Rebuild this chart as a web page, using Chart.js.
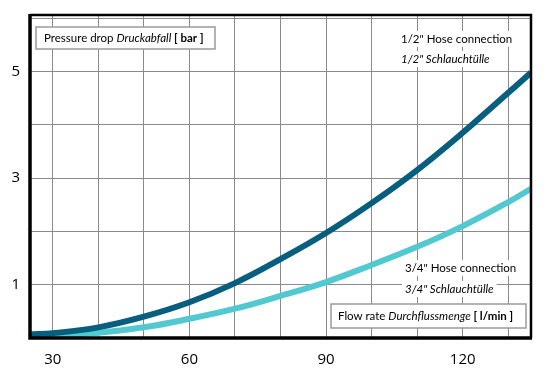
<!DOCTYPE html>
<html>
<head>
<meta charset="utf-8">
<title>Pressure drop</title>
<script src="https://cdn.jsdelivr.net/npm/chart.js@4/dist/chart.umd.min.js"></script>
<style>
  html, body { margin: 0; padding: 0; background: #fff; }
  #wrap { width: 552px; height: 375px; position: relative; }
</style>
</head>
<body>
<div id="wrap"><canvas id="chart"></canvas></div>
<script>
// flow rate in l/min
var flow = [25, 30, 40, 50, 60, 70, 80, 90, 100, 110, 120, 130, 135];
// pressure drop in bar
var half_inch = [0.07, 0.09, 0.2, 0.4, 0.67, 1.03, 1.48, 1.97, 2.53, 3.15, 3.85, 4.6, 4.98];
var three_quarter = [0.05, 0.05, 0.1, 0.2, 0.36, 0.55, 0.79, 1.05, 1.37, 1.71, 2.1, 2.55, 2.8];
var x_labels = [30, 60, 90, 120];
var y_labels = [1, 3, 5];

function points(ys) {
  return flow.map(function (x, i) {
    return { x: x, y: ys[i] };
  });
}

// label with mixed styles, drawn part by part
function drawParts(ctx, x, y, parts) {
  var cx = x;
  parts.forEach(function (p) {
    ctx.font = p[1] + ' 11.5px Lato';
    ctx.fillText(p[0], cx, y);
    cx += ctx.measureText(p[0]).width;
  });
  return cx - x;
}

function textLine(ctx, x, y, parts) {
  ctx.save();
  ctx.textBaseline = 'middle';
  ctx.fillStyle = '#000';
  ctx.globalAlpha = 0;
  var w = drawParts(ctx, x, y, parts);
  ctx.globalAlpha = 1;
  ctx.fillStyle = '#fff';
  ctx.fillRect(x - 3, y - 8, w + 6, 16);
  ctx.fillStyle = '#000';
  drawParts(ctx, x, y, parts);
  ctx.restore();
}

function box(ctx, x, y, w, h) {
  ctx.save();
  ctx.fillStyle = '#fff';
  ctx.fillRect(x, y, w, h);
  ctx.strokeStyle = '#9a9a9a';
  ctx.lineWidth = 1.5;
  ctx.strokeRect(x, y, w, h);
  ctx.restore();
}

var labelsPlugin = {
  id: 'labels',
  beforeDatasetsDraw: function (chart) {
    var ctx = chart.ctx;
    box(ctx, 36, 27, 179, 22);
    textLine(ctx, 44, 38, [['Pressure drop ', 'normal'], ['Druckabfall', 'italic'], [' [ bar ]', 'bold']]);

    textLine(ctx, 401, 39, [['1/2" Hose connection', 'normal']]);
    textLine(ctx, 401, 59, [['1/2" Schlauchtülle', 'italic']]);

    textLine(ctx, 405, 268, [['3/4" Hose connection', 'normal']]);
    textLine(ctx, 405, 289, [['3/4" Schlauchtülle', 'italic']]);

    box(ctx, 331, 304, 195, 24);
    textLine(ctx, 338, 316, [['Flow rate ', 'normal'], ['Durchflussmenge', 'italic'], [' [ l/min ]', 'bold']]);
  },
  afterDraw: function (chart) {
    var a = chart.chartArea;
    var ctx = chart.ctx;
    ctx.save();
    ctx.strokeStyle = '#000';
    ctx.lineWidth = 2.5;
    ctx.beginPath();
    ctx.moveTo(a.left, a.top);
    ctx.lineTo(a.right, a.top);
    ctx.lineTo(a.right, a.bottom);
    ctx.stroke();
    ctx.lineWidth = 3.5;
    ctx.beginPath();
    ctx.moveTo(a.left, a.top - 1);
    ctx.lineTo(a.left, a.bottom);
    ctx.lineTo(a.right + 1, a.bottom);
    ctx.stroke();
    ctx.restore();
  }
};

new Chart(document.getElementById('chart'), {
  type: 'line',
  data: {
    datasets: [
      {
        label: '1/2" Hose connection',
        data: points(half_inch),
        borderColor: '#075e7f',
        borderWidth: 6,
        pointRadius: 0,
        tension: 0.4
      },
      {
        label: '3/4" Hose connection',
        data: points(three_quarter),
        borderColor: '#52c9d1',
        borderWidth: 6,
        pointRadius: 0,
        tension: 0.4
      }
    ]
  },
  plugins: [labelsPlugin],
  options: {
    responsive: true,
    maintainAspectRatio: false,
    animation: false,
    layout: {
      padding: { left: 0, top: 15, right: 21, bottom: 0 }
    },
    plugins: {
      legend: { display: false },
      tooltip: { enabled: false }
    },
    scales: {
      x: {
        type: 'linear',
        min: 25,
        max: 135,
        afterFit: function (s) {
          s.height = 37;
          s.paddingLeft = 0;
          s.paddingRight = 0;
        },
        afterBuildTicks: function (s) {
          s.ticks = [30, 40, 50, 60, 70, 80, 90, 100, 110, 120, 130].map(function (v) { return { value: v }; });
        },
        grid: { color: '#8a8a8a', lineWidth: 1, drawTicks: false },
        border: { display: false },
        ticks: {
          autoSkip: false,
          maxRotation: 0,
          padding: 13,
          color: '#000',
          font: { family: 'Open Sans', size: 15 },
          callback: function (v) { return x_labels.indexOf(v) >= 0 ? String(v) : ''; }
        }
      },
      y: {
        min: 0,
        max: 6.06,
        afterFit: function (s) {
          s.width = 30;
          s.paddingTop = 0;
          s.paddingBottom = 0;
        },
        afterBuildTicks: function (s) {
          s.ticks = [0, 1, 2, 3, 4, 5, 6].map(function (v) { return { value: v }; });
        },
        grid: { color: '#8a8a8a', lineWidth: 1, drawTicks: false },
        border: { display: false },
        ticks: {
          padding: 10,
          color: '#000',
          font: { family: 'Open Sans', size: 15 },
          callback: function (v) { return y_labels.indexOf(v) >= 0 ? String(v) : ''; }
        }
      }
    }
  }
});
</script>
</body>
</html>
